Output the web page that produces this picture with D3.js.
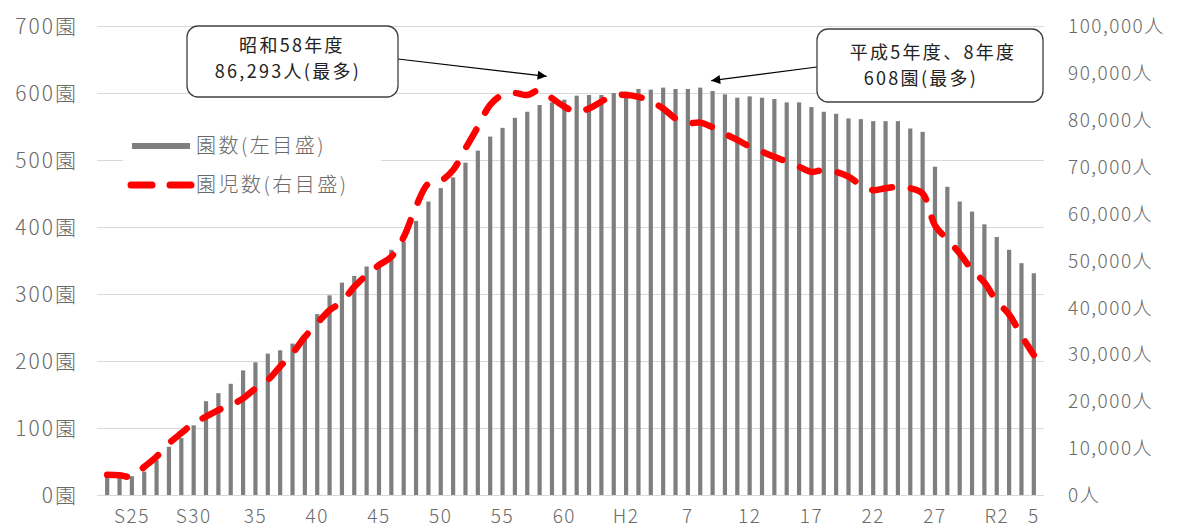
<!DOCTYPE html>
<html><head><meta charset="utf-8">
<script src="https://cdn.jsdelivr.net/npm/d3@7/dist/d3.min.js"></script>
<style>body{margin:0;background:#fff}svg{display:block}</style>
</head><body><svg id="c" width="1183" height="528"></svg>
<script>
// ---- data ----
const categories = ["S23","S24","S25","S26","S27","S28","S29","S30","S31","S32","S33","S34","S35","S36","S37","S38","S39","S40","S41","S42","S43","S44","S45","S46","S47","S48","S49","S50","S51","S52","S53","S54","S55","S56","S57","S58","S59","S60","S61","S62","S63","H1","H2","H3","H4","H5","H6","H7","H8","H9","H10","H11","H12","H13","H14","H15","H16","H17","H18","H19","H20","H21","H22","H23","H24","H25","H26","H27","H28","H29","H30","R1","R2","R3","R4","R5"];
const schools = [27,27,28,35,52,72,85,104,140,152,166,186,198,211,216,226,239,270,298,317,327,341,348,366,378,409,438,458,474,496,514,535,548,563,572,582,586,590,596,597,597,600,602,606,605,608,606,606,608,603,598,593,595,593,591,586,586,579,572,569,562,561,558,558,558,547,542,490,460,438,423,404,385,366,346,331];
const children = [4300,4200,3900,6000,8200,11000,13200,15300,16700,18100,19200,20600,22700,24500,27400,30200,33700,36600,39400,41200,44400,46900,49000,50800,55000,61500,66400,67000,69300,73900,78500,83200,85300,85700,85300,86293,84600,82800,81700,82400,83900,85200,85300,84900,83900,82400,80300,79300,79400,78400,77000,75700,74300,73200,72100,71100,70000,68900,69300,68900,67900,66100,65000,65400,65700,65400,64300,57500,54500,51500,48000,45300,41300,38500,34000,29850];
const tickCats = ["S25","S30","S35","S40","S45","S50","S55","S60","H2","H7","H12","H17","H22","H27","R2","R5"];
const tickLabels = ["S25","S30","35","40","45","50","55","60","H2","7","12","17","22","27","R2","5"];
const leftTicks = [0,100,200,300,400,500,600,700];
const rightTicks = [0,10000,20000,30000,40000,50000,60000,70000,80000,90000,100000];
const seriesNames = ["園数(左目盛)","園児数(右目盛)"];
const note1 = ["昭和58年度","86,293人(最多)"];
const note2 = ["平成5年度、8年度","608園(最多)"];
const note1Cat = "S58", note2Cat = "H8";

// ---- chart ----
const svg = d3.select("#c");
const font = "'Noto Sans CJK JP','Noto Sans',sans-serif";
const x = d3.scaleBand().domain(categories).range([101,1040]).paddingInner(0.66).paddingOuter(0.33);
const yL = d3.scaleLinear().domain([0,700]).range([495,26]);
const yR = d3.scaleLinear().domain([0,100000]).range([495,26]);
const cx = c => x(c) + x.bandwidth()/2;
const axisColor = "#6a6a6a";

// gridlines
svg.append("g").selectAll("line").data(leftTicks).join("line")
  .attr("x1",97).attr("x2",1044).attr("y1",d=>yL(d)+0.5).attr("y2",d=>yL(d)+0.5)
  .attr("stroke","#d9d9d9").attr("stroke-width",1);

// left axis
const axL = svg.append("g").attr("transform","translate(78,0)")
  .call(d3.axisLeft(yL).tickValues(leftTicks).tickSize(0).tickPadding(0).tickFormat(d=>d+"園"));
axL.select(".domain").remove();
axL.selectAll("text").attr("font-family",font).attr("font-size",21).attr("font-weight",300).attr("letter-spacing","2px")
  .attr("fill",axisColor).attr("dy","0.35em");

// right axis
const axR = svg.append("g").attr("transform","translate(1068,0)")
  .call(d3.axisRight(yR).tickValues(rightTicks).tickSize(0).tickPadding(0).tickFormat(d=>d3.format(",")(d)+"人"));
axR.select(".domain").remove();
axR.selectAll("text").attr("font-family",font).attr("font-size",19).attr("font-weight",300).attr("letter-spacing","1.5px")
  .attr("fill",axisColor).attr("dy","0.35em");

// bottom axis
const axB = svg.append("g").attr("transform","translate(0,509)")
  .call(d3.axisBottom(x).tickValues(tickCats).tickSize(0).tickPadding(0)
    .tickFormat(d=>tickLabels[tickCats.indexOf(d)]));
axB.select(".domain").remove();
axB.selectAll("text").attr("font-family",font).attr("font-size",19).attr("font-weight",300).attr("letter-spacing","1.5px")
  .attr("fill",axisColor).attr("dy","0.71em");

// legend background
const lg = svg.append("g");
lg.append("rect").attr("x",123).attr("y",128).attr("width",258).attr("height",72).attr("fill","#fff");

// bars
svg.append("g").selectAll("rect").data(schools).join("rect")
  .attr("x",(d,i)=>x(categories[i])).attr("width",x.bandwidth())
  .attr("y",d=>yL(d)).attr("height",d=>yL(0)-yL(d)).attr("fill","#7f7f7f");

// line
const line = d3.line().x((d,i)=>cx(categories[i])).y(d=>yR(d)).curve(d3.curveCatmullRom.alpha(0.5));
svg.append("path").datum(children).attr("d",line).attr("fill","none")
  .attr("stroke","#ff0000").attr("stroke-width",6.5).attr("stroke-linecap","round")
  .attr("stroke-linejoin","round").attr("stroke-dasharray","20,19");

// legend
lg.append("line").attr("x1",132).attr("x2",190).attr("y1",146).attr("y2",146)
  .attr("stroke","#7f7f7f").attr("stroke-width",6);
lg.append("line").attr("x1",131).attr("x2",192).attr("y1",185).attr("y2",185)
  .attr("stroke","#ff0000").attr("stroke-width",7).attr("stroke-linecap","round").attr("stroke-dasharray","21,18");
lg.selectAll("text").data(seriesNames).join("text")
  .attr("x",196).attr("y",(d,i)=>146+i*39).attr("dy","0.35em")
  .attr("font-family",font).attr("font-size",20).attr("font-weight",300).attr("letter-spacing","2.5px").attr("fill",axisColor).text(d=>d);

// annotations
const defs = svg.append("defs");
defs.append("marker").attr("id","ah").attr("viewBox","0 0 10 10").attr("refX",10).attr("refY",5)
  .attr("markerWidth",12).attr("markerHeight",9).attr("markerUnits","userSpaceOnUse").attr("orient","auto")
  .append("path").attr("d","M0,0L10,5L0,10Z").attr("fill","#000");

const tip1 = [cx(note1Cat)+7, yR(children[categories.indexOf(note1Cat)])-14];
const tip2 = [cx(note2Cat)+11, yL(schools[categories.indexOf(note2Cat)])-7];
svg.append("line").attr("x1",398).attr("y1",59).attr("x2",tip1[0]).attr("y2",tip1[1])
  .attr("stroke","#000").attr("stroke-width",1.2).attr("marker-end","url(#ah)");
svg.append("line").attr("x1",817).attr("y1",67).attr("x2",tip2[0]).attr("y2",tip2[1])
  .attr("stroke","#000").attr("stroke-width",1.2).attr("marker-end","url(#ah)");

svg.append("rect").attr("x",187).attr("y",26).attr("width",211).attr("height",71).attr("rx",11)
  .attr("fill","#fff").attr("stroke","#404040").attr("stroke-width",1.3);
svg.append("rect").attr("x",817).attr("y",29).attr("width",226).attr("height",73).attr("rx",11)
  .attr("fill","#fff").attr("stroke","#404040").attr("stroke-width",1.3);

const t1 = svg.append("g").attr("font-family",font).attr("font-size",18).attr("letter-spacing","2.3px").attr("fill","#222").attr("text-anchor","middle");
t1.append("text").attr("x",292).attr("y",46).attr("dy","0.35em").text(note1[0]);
t1.append("text").attr("x",288).attr("y",72).attr("dy","0.35em").text(note1[1]);
const t2 = svg.append("g").attr("font-family",font).attr("font-size",18).attr("letter-spacing","2.3px").attr("fill","#222").attr("text-anchor","middle");
t2.append("text").attr("x",933).attr("y",53).attr("dy","0.35em").text(note2[0]);
t2.append("text").attr("x",921).attr("y",79).attr("dy","0.35em").text(note2[1]);
</script>
</body></html>
